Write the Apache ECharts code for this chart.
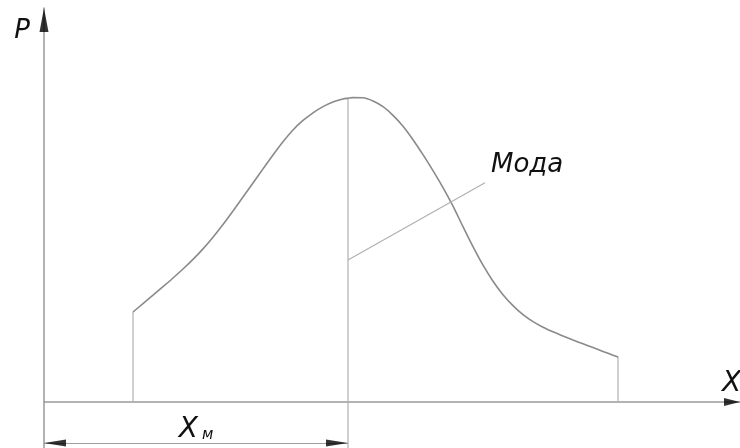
<!DOCTYPE html>
<html>
<head>
<meta charset="utf-8">
<script src="https://cdn.jsdelivr.net/npm/echarts@6/dist/echarts.min.js"></script>
<style>
  html, body { margin: 0; padding: 0; background: #fff; }
  #chart { width: 740px; height: 448px; }
</style>
</head>
<body>
<div id="chart"></div>
<script>
// кривая распределения (условные единицы чертежа)
const curveX = [8.9, 9.9, 10.9, 11.9, 12.9, 13.9, 14.9, 15.9, 16.9, 17.9, 18.9, 19.9, 20.9, 21.9,
    22.9, 23.9, 24.9, 25.9, 26.9, 27.9, 28.9, 29.9, 30.4, 30.9, 31.9, 32.9, 33.9, 34.9, 35.9, 36.9,
    37.9, 38.9, 39.9, 40.9, 41.9, 42.9, 43.9, 44.9, 45.9, 46.9, 47.9, 48.9, 49.9, 50.9, 51.9, 52.9,
    53.9, 54.9, 55.9, 56.9, 57.4];
const curveY = [22.5, 24.6, 26.7, 28.83, 31.0, 33.25, 35.65, 38.28, 41.18, 44.35, 47.73, 51.23, 54.75, 58.28,
    61.75, 65.05, 68.0, 70.38, 72.3, 73.85, 75.0, 75.75, 75.95, 76.1, 76.05, 75.25, 73.83, 71.65, 68.95, 65.58,
    61.83, 57.83, 53.58, 48.95, 43.83, 38.83, 34.2, 30.2, 26.83, 24.08, 21.83, 20.08, 18.7, 17.55, 16.5, 15.5,
    14.55, 13.6, 12.65, 11.7, 11.23];

// мода - индекс точки на кривой
const modeIndex = 22;

// выноска "Мода"
const leaderX = [30.4, 44.1];
const leaderY = [35.5, 54.8];

// диапазон осей
const xRange = [0, 69.6];
const yRange = [-11.5, 98.5];

// размерная линия X_м
const dimY = -10.25;

const font = '"DejaVu Sans", sans-serif';
const lineGrey = '#9a9a9a';

const chart = echarts.init(document.getElementById('chart'));

const curve = curveX.map((x, i) => [x, curveY[i]]);
const last = curve.length - 1;
const modeX = curveX[modeIndex];

function vline(x, y0, y1) {
    return {
        type: 'line',
        data: [[x, y0], [x, y1]],
        symbol: 'none',
        silent: true,
        lineStyle: { color: '#b0b0b0', width: 1.2 },
        z: 2
    };
}

chart.setOption({
    animation: false,
    grid: { left: 44, right: 0, top: 8, bottom: 0, containLabel: false, outerBoundsMode: 'none' },
    xAxis: {
        type: 'value',
        min: xRange[0],
        max: xRange[1],
        name: 'X',
        nameLocation: 'end',
        nameGap: -18,
        nameTextStyle: {
            fontFamily: font, fontStyle: 'italic', fontSize: 28, color: '#111',
            align: 'left', verticalAlign: 'bottom', padding: [0, 0, 4, 0]
        },
        axisLine: { onZero: true, lineStyle: { color: lineGrey, width: 1.5 } },
        axisTick: { show: false },
        axisLabel: { show: false },
        splitLine: { show: false }
    },
    yAxis: {
        type: 'value',
        min: yRange[0],
        max: yRange[1],
        name: 'P',
        nameLocation: 'end',
        nameGap: -10,
        nameTextStyle: {
            fontFamily: font, fontStyle: 'italic', fontSize: 26, color: '#111',
            align: 'right', verticalAlign: 'top', padding: [0, 14, 0, 0]
        },
        axisLine: { onZero: false, lineStyle: { color: lineGrey, width: 1.5 } },
        axisTick: { show: false },
        axisLabel: { show: false },
        splitLine: { show: false }
    },
    series: [
        {
            name: 'curve',
            type: 'line',
            data: curve,
            smooth: 0.3,
            symbol: 'none',
            lineStyle: { color: '#8a8a8a', width: 1.6 },
            z: 3
        },
        vline(curveX[0], 0, curveY[0]),
        vline(curveX[last], 0, curveY[last]),
        vline(modeX, yRange[0], curveY[modeIndex]),
        {
            name: 'leader',
            type: 'line',
            data: leaderX.map((x, i) => [x, leaderY[i]]),
            symbol: 'none',
            lineStyle: { color: '#b0b0b0', width: 1.2 },
            endLabel: {
                show: true,
                formatter: 'Мода',
                fontFamily: font,
                fontStyle: 'italic',
                fontSize: 26,
                color: '#111',
                offset: [-2, -18]
            }
        },
        {
            name: 'dim',
            type: 'line',
            data: [],
            markLine: {
                silent: true,
                symbol: 'none',
                lineStyle: { color: '#a0a0a0', width: 1.2, type: 'solid' },
                label: {
                    show: true,
                    position: 'middle',
                    distance: -1,
                    formatter: '{x|X}{m|м}',
                    rich: {
                        x: { fontFamily: font, fontStyle: 'italic', fontSize: 28, color: '#111' },
                        m: { fontFamily: font, fontStyle: 'italic', fontSize: 15, color: '#111', padding: [10, 0, 0, 4] }
                    }
                },
                data: [[{ coord: [0, dimY] }, { coord: [modeX, dimY] }]]
            }
        },
        {
            name: 'arrows',
            type: 'scatter',
            clip: false,
            silent: true,
            itemStyle: { color: '#000' },
            data: [
                { value: [xRange[0], yRange[1]], symbol: 'triangle', symbolSize: [9, 24], symbolRotate: 0, symbolOffset: [0, 12] },
                { value: [xRange[1], 0], symbol: 'triangle', symbolSize: [8, 16], symbolRotate: -90, symbolOffset: [-8, 0] },
                { value: [0, dimY], symbol: 'triangle', symbolSize: [7, 22], symbolRotate: 90, symbolOffset: [11, 0] },
                { value: [modeX, dimY], symbol: 'triangle', symbolSize: [7, 22], symbolRotate: -90, symbolOffset: [-11, 0] }
            ],
            z: 5
        }
    ]
});

window.addEventListener('resize', () => {
    chart.resize();
});
</script>
</body>
</html>
